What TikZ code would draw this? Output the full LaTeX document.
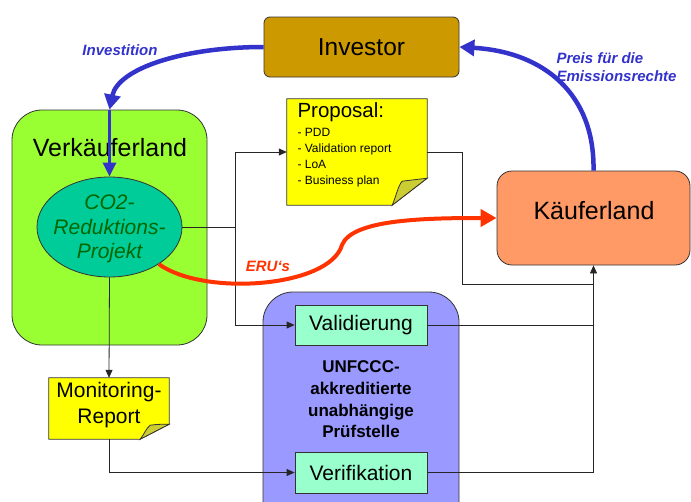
\documentclass[tikz,border=0pt]{standalone}
\usepackage{fontspec}
\setmainfont{Liberation Sans}
\usetikzlibrary{shapes.geometric,arrows.meta,calc}
\definecolor{investorfill}{HTML}{CC9900}
\definecolor{verkfill}{HTML}{99FF33}
\definecolor{projfill}{HTML}{00CC99}
\definecolor{projtext}{HTML}{006600}
\definecolor{noteyellow}{HTML}{FFFF00}
\definecolor{foldcol}{HTML}{CCCC33}
\definecolor{kaeuferfill}{HTML}{FF9966}
\definecolor{unfcccfill}{HTML}{9999FF}
\definecolor{boxfill}{HTML}{99FFCC}
\definecolor{flowblue}{HTML}{3333CC}
\definecolor{flowred}{HTML}{FF3300}
\definecolor{edge}{HTML}{333333}
\tikzset{
  x=1pt, y=1pt,
  shapebox/.style={draw=edge, line width=0.8pt, inner sep=0pt},
  conn/.style={draw=black!85, line width=0.8pt},
  connarrow/.style={conn, -{Triangle[length=8pt,width=7pt]}},
  bigblue/.style={draw=flowblue, line width=4.5pt, -{Triangle[length=15pt,width=16pt]}},
  midblue/.style={draw=flowblue, line width=3pt, -{Triangle[length=14pt,width=13pt]}},
  bigred/.style={draw=flowred, line width=4pt, -{Triangle[length=16pt,width=17pt]}},
  flowlabel/.style={font=\fontsize{15}{18}\selectfont\bfseries\itshape},
}
\begin{document}
\begin{tikzpicture}
\clip (0,0) rectangle (691,-501);
\fill[white] (0,0) rectangle (691,-501);

% main containers
\node[shapebox, fill=verkfill, rounded corners=30pt, minimum width=195pt, minimum height=235pt] (verk) at (109.5,-227.5) {};
\node[font=\fontsize{25}{28}\selectfont] (verklabel) at (110,-148) {Verkäuferland};
\node[shapebox, fill=unfcccfill, rounded corners=30pt, minimum width=196pt, minimum height=248pt] (unfccc) at (361,-416) {};

\node[shapebox, fill=investorfill, rounded corners=6pt, minimum width=195pt, minimum height=60pt, font=\fontsize{24.5}{28}\selectfont] (investor) at (361.5,-47) {Investor};
\node[shapebox, fill=kaeuferfill, rounded corners=15pt, minimum width=193pt, minimum height=94pt] (kaeufer) at (593.5,-218) {};
\node[font=\fontsize{25}{28}\selectfont] (kaeuferlabel) at (594,-211) {Käuferland};

\node[shapebox, ellipse, fill=projfill, minimum width=145pt, minimum height=100pt] (proj) at (109.5,-227) {};
\node[text=projtext, align=center, font=\fontsize{21}{24.5}\selectfont\itshape] (projlabel) at (109.5,-229) {CO2-\\Reduktions-\\Projekt};

\node[shapebox, fill=boxfill, minimum width=132pt, minimum height=40pt, font=\fontsize{21}{24}\selectfont] (valid) at (361,-325) {Validierung};
\node[shapebox, fill=boxfill, minimum width=132pt, minimum height=41pt, font=\fontsize{21}{24}\selectfont] (verif) at (361,-472.5) {Verifikation};
\node[align=center, font=\fontsize{17}{21.7}\selectfont\bfseries] (pruef) at (361,-399.5) {UNFCCC-\\akkreditierte\\unabhängige\\Prüfstelle};

% notes
\node[minimum width=140pt, minimum height=106pt, inner sep=0pt] (proposal) at (357,-152) {};
\draw[fill=noteyellow, draw=edge, line width=0.8pt]
  (proposal.north west) -- (proposal.north east) -- ($(proposal.south east)+(0,27)$)
  -- ($(proposal.south east)+(-35,0)$) -- (proposal.south west) -- cycle;
\draw[fill=foldcol, draw=edge, line width=0.8pt]
  ($(proposal.south east)+(0,27)$) -- ($(proposal.south east)+(-35,0)$)
  .. controls ($(proposal.south east)+(-31,9)$) and ($(proposal.south east)+(-29,20)$) .. ($(proposal.south east)+(-25,24)$)
  .. controls ($(proposal.south east)+(-17,25)$) and ($(proposal.south east)+(-8,26)$) .. cycle;
\node[anchor=west, font=\fontsize{20.5}{24}\selectfont] (proptitle) at (294,-112) {Proposal:};
\node[anchor=north west, align=left, font=\fontsize{12}{16.2}\selectfont] (proplist) at (294,-124.5) {- PDD\\- Validation report\\- LoA\\- Business plan};

\node[minimum width=120pt, minimum height=61pt, inner sep=0pt] (monitor) at (109,-408.5) {};
\draw[fill=noteyellow, draw=edge, line width=0.8pt]
  (monitor.north west) -- (monitor.north east) -- ($(monitor.south east)+(0,15)$)
  -- ($(monitor.south east)+(-29,0)$) -- (monitor.south west) -- cycle;
\draw[fill=foldcol, draw=edge, line width=0.8pt]
  ($(monitor.south east)+(0,15)$) -- ($(monitor.south east)+(-29,0)$)
  .. controls ($(monitor.south east)+(-25,5)$) and ($(monitor.south east)+(-23,11)$) .. ($(monitor.south east)+(-19,14)$)
  .. controls ($(monitor.south east)+(-12,15)$) and ($(monitor.south east)+(-6,15)$) .. cycle;
\node[align=center, font=\fontsize{21}{26}\selectfont] (montext) at (109,-405) {Monitoring-\\Report};

% thin connectors
\coordinate (split) at (235,-227);
\coordinate (join) at (kaeufer.south |- 0,-284);
\draw[conn] (proj.east) -- (split);
\draw[connarrow] (split) |- (proposal.west);
\draw[connarrow] (split) |- (valid.west);
\draw[conn] (proposal.east) -- ++(35,0) |- (join);
\draw[connarrow] (valid.east) -| (kaeufer.south);
\draw[conn] (verif.east) -| (join);
\draw[connarrow] (proj.south) -- (monitor.north);
\draw[connarrow] (monitor.south) |- (verif.west);

% blue money flows
\draw[bigblue] (investor.west) .. controls (185,-47) and (118,-68) .. (verk.north);
\draw[midblue] (verk.north) -- (proj.north);
\draw[bigblue] (kaeufer.north) .. controls (595,-95) and (545,-52) .. (investor.east);
\node[flowlabel, text=flowblue] (invlabel) at (120,-50) {Investition};
\node[flowlabel, text=flowblue, anchor=west, align=left] (preislabel) at (553,-67) {Preis für die\\Emissionsrechte};

% red ERU flow
\coordinate (erumid) at (342,-245);
\draw[bigred] (proj.-37) .. controls (205,-297) and (330,-287) .. (erumid)
  .. controls (352,-220) and (420,-218) .. (kaeufer.west);
\node[flowlabel, text=flowred] (erulabel) at (268,-266) {ERU‘s};
\end{tikzpicture}
\end{document}
